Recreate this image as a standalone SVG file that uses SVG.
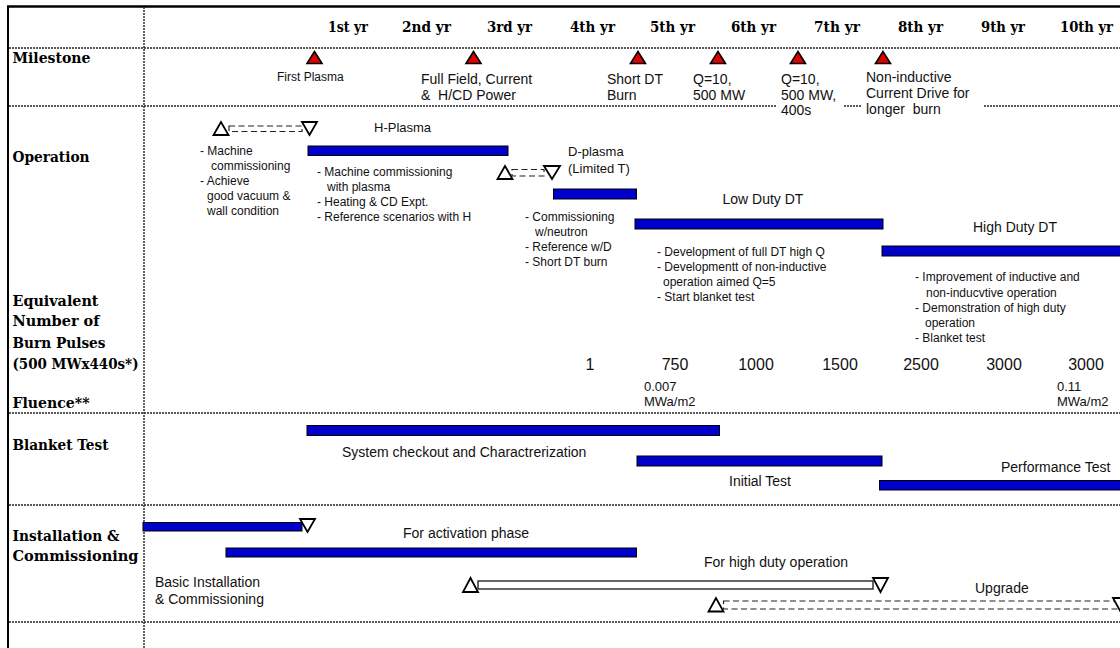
<svg xmlns="http://www.w3.org/2000/svg" width="1120" height="648" viewBox="0 0 1120 648">
<style>
.hd{font-family:"DejaVu Serif","Liberation Serif",serif;font-weight:bold;font-size:15px;fill:#000}
.s12{font-family:"Liberation Sans",Arial,sans-serif;font-size:12px;fill:#111}
.s13{font-family:"Liberation Sans",Arial,sans-serif;font-size:13px;fill:#111}
.s14{font-family:"Liberation Sans",Arial,sans-serif;font-size:14px;fill:#111}
.s16{font-family:"Liberation Sans",Arial,sans-serif;font-size:16px;fill:#111}
.dot{stroke:#222;stroke-width:1.4;stroke-dasharray:2 1;fill:none}
.bar{fill:#0000cc;stroke:#000;stroke-width:1}
.ms{fill:#e00000;stroke:#000;stroke-width:1.6;stroke-linejoin:miter}
.tri{fill:#fff;stroke:#000;stroke-width:1.8}
.dash{fill:#fff;stroke:#222;stroke-width:1.2;stroke-dasharray:6 3.5}
.hol{fill:#fff;stroke:#333;stroke-width:1.5}
</style>

<g id="grid">
<line x1="7" y1="6.5" x2="1120" y2="6.5" stroke="#000" stroke-width="2.5"/>
<line x1="8" y1="6" x2="8" y2="648" stroke="#000" stroke-width="2"/>
<line class="dot" x1="144" y1="7" x2="144" y2="648"/>
<line class="dot" x1="9" y1="48" x2="1120" y2="48"/>
<line class="dot" x1="9" y1="106" x2="776" y2="106"/>
<line class="dot" x1="844" y1="106" x2="862" y2="106"/>
<line class="dot" x1="984" y1="106" x2="1120" y2="106"/>
<line class="dot" x1="9" y1="413" x2="1120" y2="413"/>
<line class="dot" x1="9" y1="505" x2="1120" y2="505"/>
<line class="dot" x1="9" y1="622" x2="1120" y2="622"/>
</g>

<g id="years">
<text class="hd" x="328" y="32" textLength="40" lengthAdjust="spacingAndGlyphs">1st yr</text>
<text class="hd" x="402" y="32" textLength="49" lengthAdjust="spacingAndGlyphs">2nd yr</text>
<text class="hd" x="487" y="32" textLength="45" lengthAdjust="spacingAndGlyphs">3rd yr</text>
<text class="hd" x="570" y="32" textLength="45" lengthAdjust="spacingAndGlyphs">4th yr</text>
<text class="hd" x="650" y="32" textLength="45" lengthAdjust="spacingAndGlyphs">5th yr</text>
<text class="hd" x="731" y="32" textLength="45" lengthAdjust="spacingAndGlyphs">6th yr</text>
<text class="hd" x="814" y="32" textLength="46" lengthAdjust="spacingAndGlyphs">7th yr</text>
<text class="hd" x="898" y="32" textLength="45" lengthAdjust="spacingAndGlyphs">8th yr</text>
<text class="hd" x="981" y="32" textLength="44" lengthAdjust="spacingAndGlyphs">9th yr</text>
<text class="hd" x="1060" y="32" textLength="53" lengthAdjust="spacingAndGlyphs">10th yr</text>
</g>

<g id="row-labels">
<text class="hd" x="12.5" y="63" textLength="78" lengthAdjust="spacingAndGlyphs">Milestone</text>
<text class="hd" x="12.5" y="162" textLength="77" lengthAdjust="spacingAndGlyphs">Operation</text>
<text class="hd" x="12.5" y="305.5" textLength="86" lengthAdjust="spacingAndGlyphs">Equivalent</text>
<text class="hd" x="12.5" y="326" textLength="87" lengthAdjust="spacingAndGlyphs">Number of</text>
<text class="hd" x="12.5" y="347.5" textLength="93" lengthAdjust="spacingAndGlyphs">Burn Pulses</text>
<text class="hd" x="12.5" y="368.5" textLength="126" lengthAdjust="spacingAndGlyphs">(500 MWx440s*)</text>
<text class="hd" x="12.5" y="407.5" textLength="77" lengthAdjust="spacingAndGlyphs">Fluence**</text>
<text class="hd" x="12.5" y="450" textLength="96" lengthAdjust="spacingAndGlyphs">Blanket Test</text>
<text class="hd" x="12.5" y="541" textLength="107" lengthAdjust="spacingAndGlyphs">Installation &amp;</text>
<text class="hd" x="12.5" y="560.5" textLength="126" lengthAdjust="spacingAndGlyphs">Commissioning</text>
</g>

<g id="milestones">
<polygon class="ms" points="314.5,51.5 307,63.5 322,63.5"/>
<polygon class="ms" points="473.5,51.5 466,63.5 481,63.5"/>
<polygon class="ms" points="638,51.5 630.5,63.5 645.5,63.5"/>
<polygon class="ms" points="718,51.5 710.5,63.5 725.5,63.5"/>
<polygon class="ms" points="798,51.5 790.5,63.5 805.5,63.5"/>
<polygon class="ms" points="883,51.5 875.5,63.5 890.5,63.5"/>
<text class="s12" x="277" y="81">First Plasma</text>
<text class="s14" x="421" y="84">Full Field, Current</text>
<text class="s14" x="421" y="99.5" xml:space="preserve">&amp;  H/CD Power</text>
<text class="s14" x="607" y="84">Short DT</text>
<text class="s14" x="607" y="99.5">Burn</text>
<text class="s14" x="693" y="84">Q=10,</text>
<text class="s14" x="693" y="99.5">500 MW</text>
<text class="s14" x="781" y="84">Q=10,</text>
<text class="s14" x="781" y="99.5">500 MW,</text>
<text class="s14" x="781" y="115">400s</text>
<text class="s14" x="866" y="82">Non-inductive</text>
<text class="s14" x="866" y="98">Current Drive for</text>
<text class="s14" x="866" y="114" xml:space="preserve">longer  burn</text>
</g>

<g id="op-commissioning">
<rect class="dash" x="229" y="126" width="73" height="5.5"/>
<polygon class="tri" points="221,122 213.5,135 228.5,135"/>
<polygon class="tri" points="302,122 317,122 309.5,135"/>
<text class="s12" x="200" y="155">- Machine</text>
<text class="s12" x="211" y="170">commissioning</text>
<text class="s12" x="200" y="185">- Achieve</text>
<text class="s12" x="207" y="200">good vacuum &amp;</text>
<text class="s12" x="207" y="215">wall condition</text>
</g>

<g id="op-h-plasma">
<text class="s13" x="374" y="132">H-Plasma</text>
<rect class="bar" x="308" y="146" width="200" height="9.5"/>
<text class="s12" x="317" y="176">- Machine commissioning</text>
<text class="s12" x="327" y="191">with plasma</text>
<text class="s12" x="317" y="206">- Heating &amp; CD Expt.</text>
<text class="s12" x="317" y="221">- Reference scenarios with H</text>
</g>

<g id="op-d-plasma">
<rect class="dash" x="512" y="169.5" width="32" height="6.5"/>
<polygon class="tri" points="505,166 497.5,179 512.5,179"/>
<polygon class="tri" points="544,166 560,166 552,179"/>
<text class="s13" x="568" y="156">D-plasma</text>
<text class="s13" x="568" y="173">(Limited T)</text>
<rect class="bar" x="553.5" y="189" width="83" height="10"/>
<text class="s12" x="525" y="221">- Commissioning</text>
<text class="s12" x="535" y="236">w/neutron</text>
<text class="s12" x="525" y="251">- Reference w/D</text>
<text class="s12" x="525" y="266">- Short DT burn</text>
</g>

<g id="op-low-duty">
<text class="s14" x="722.5" y="203.5">Low Duty DT</text>
<rect class="bar" x="635" y="219" width="248" height="10"/>
<text class="s12" x="657" y="256">- Development of full DT high Q</text>
<text class="s12" x="657" y="270.5">- Developmentt of non-inductive</text>
<text class="s12" x="663" y="285.5">operation aimed Q=5</text>
<text class="s12" x="657" y="300.5">- Start blanket test</text>
</g>

<g id="op-high-duty">
<text class="s14" x="973" y="231.5">High Duty DT</text>
<rect class="bar" x="882" y="246" width="240" height="10"/>
<text class="s12" x="915" y="281">- Improvement of inductive and</text>
<text class="s12" x="926" y="297">non-inducvtive operation</text>
<text class="s12" x="915" y="312">- Demonstration of high duty</text>
<text class="s12" x="925" y="327">operation</text>
<text class="s12" x="915" y="342">- Blanket test</text>
</g>

<g id="pulses">
<text class="s16" x="590" y="370" text-anchor="middle">1</text>
<text class="s16" x="675" y="370" text-anchor="middle">750</text>
<text class="s16" x="756" y="370" text-anchor="middle">1000</text>
<text class="s16" x="840" y="370" text-anchor="middle">1500</text>
<text class="s16" x="921" y="370" text-anchor="middle">2500</text>
<text class="s16" x="1004" y="370" text-anchor="middle">3000</text>
<text class="s16" x="1086" y="370" text-anchor="middle">3000</text>
</g>

<g id="fluence">
<text class="s13" x="644" y="390.5">0.007</text>
<text class="s13" x="644" y="406">MWa/m2</text>
<text class="s13" x="1057" y="390.5">0.11</text>
<text class="s13" x="1057" y="406">MWa/m2</text>
</g>

<g id="blanket-test">
<rect class="bar" x="307" y="425.5" width="412.5" height="10"/>
<text class="s14" x="342" y="457">System checkout and Charactrerization</text>
<rect class="bar" x="637" y="456" width="245" height="10"/>
<text class="s14" x="729" y="486">Initial Test</text>
<text class="s14" x="1001" y="472">Performance Test</text>
<rect class="bar" x="879.5" y="480.5" width="242" height="9.5"/>
</g>

<g id="installation">
<rect class="bar" x="143" y="522.5" width="159" height="8.5"/>
<polygon class="tri" points="300,519 315,519 307.5,532"/>
<text class="s14" x="403" y="538">For activation phase</text>
<rect class="bar" x="226" y="548" width="410.5" height="9"/>
<text class="s14" x="155" y="587">Basic Installation</text>
<text class="s14" x="155" y="604">&amp; Commissioning</text>
<text class="s14" x="704" y="567">For high duty operation</text>
<rect class="hol" x="478" y="581" width="395" height="8"/>
<polygon class="tri" points="470.5,578 463,592 478,592"/>
<polygon class="tri" points="873,578 888,578 880.5,592"/>
<text class="s14" x="975" y="593">Upgrade</text>
<rect class="dash" x="723.5" y="601" width="402" height="8"/>
<polygon class="tri" points="716,598 708.5,611.5 723.5,611.5"/>
<polygon class="tri" points="1113,598 1128,598 1120.5,611.5"/>
</g>
</svg>
